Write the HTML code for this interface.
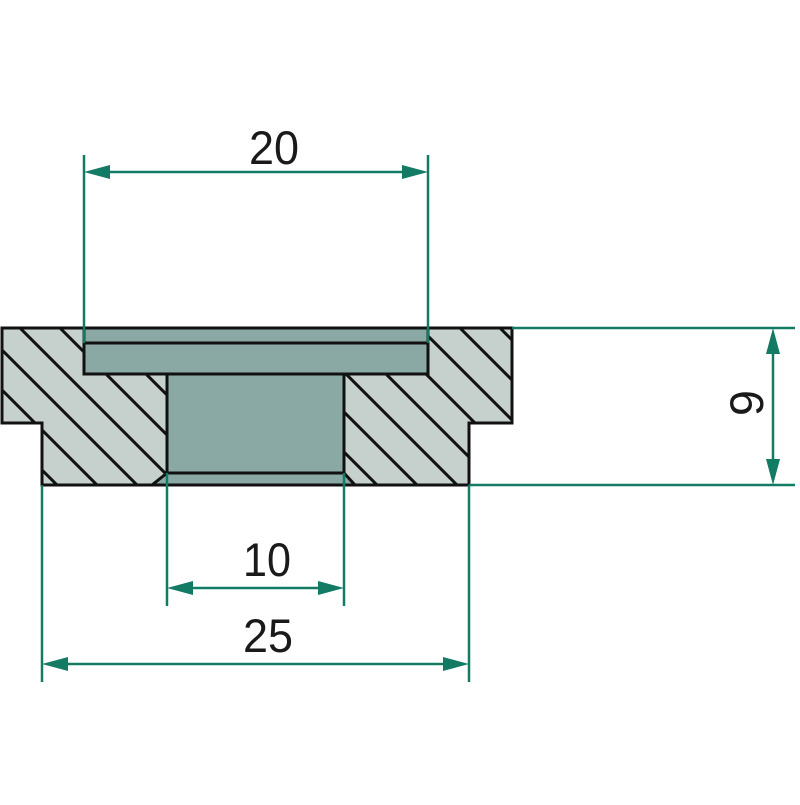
<!DOCTYPE html>
<html><head><style>html,body{margin:0;padding:0;background:#fff}</style></head><body>
<svg width="800" height="800" viewBox="0 0 800 800" xmlns="http://www.w3.org/2000/svg">
<defs>
<pattern id="h" patternUnits="userSpaceOnUse" width="40" height="40" patternTransform="translate(20,328)">
<rect width="40" height="40" fill="#c6d1ce"/>
<path d="M0,0 L40,40 M-20,20 L20,60 M20,-20 L60,20" stroke="#111" stroke-width="3"/>
</pattern>
</defs>
<path d="M2,328 H512 V423 H469 V485 H42 V423 H2 Z" fill="url(#h)" stroke="#111" stroke-width="3"/>
<rect x="84" y="328" width="344" height="46" fill="#8aa9a5" stroke="#111" stroke-width="3"/>
<line x1="84" y1="343" x2="428" y2="343" stroke="#111" stroke-width="3"/>
<path d="M167,374 H344 V473 L355,485 H152 L167,473 Z" fill="#8aa9a5" stroke="#111" stroke-width="3"/>
<line x1="167" y1="473" x2="344" y2="473" stroke="#111" stroke-width="3"/>
<g stroke="#137a64" stroke-width="2.5" fill="none">
<line x1="84" y1="155" x2="84" y2="343"/>
<line x1="428" y1="155" x2="428" y2="343"/>
<line x1="100" y1="172" x2="412" y2="172"/>
<line x1="512" y1="328" x2="795" y2="328"/>
<line x1="469" y1="485" x2="795" y2="485"/>
<line x1="773" y1="345" x2="773" y2="468"/>
<line x1="167" y1="473" x2="167" y2="606"/>
<line x1="344" y1="473" x2="344" y2="606"/>
<line x1="185" y1="588" x2="326" y2="588"/>
<line x1="42" y1="485" x2="42" y2="682"/>
<line x1="469" y1="485" x2="469" y2="682"/>
<line x1="60" y1="664" x2="451" y2="664"/>
</g>
<g fill="#137a64">
<path d="M84,172 L110,165 L110,179 Z"/>
<path d="M428,172 L402,165 L402,179 Z"/>
<path d="M773,328 L766,354 L780,354 Z"/>
<path d="M773,485 L766,459 L780,459 Z"/>
<path d="M167,588 L193,581 L193,595 Z"/>
<path d="M344,588 L318,581 L318,595 Z"/>
<path d="M42,664 L68,657 L68,671 Z"/>
<path d="M469,664 L443,657 L443,671 Z"/>
</g>
<g font-family="Liberation Sans, sans-serif" font-size="47" fill="#1a1a1a" text-anchor="middle">
<text x="274" y="164" textLength="50" lengthAdjust="spacingAndGlyphs">20</text>
<text x="267" y="576" textLength="48" lengthAdjust="spacingAndGlyphs">10</text>
<text x="268" y="652" textLength="50" lengthAdjust="spacingAndGlyphs">25</text>
<text x="0" y="0" transform="translate(763,403) rotate(-90)">9</text>
</g>
</svg>
</body></html>
